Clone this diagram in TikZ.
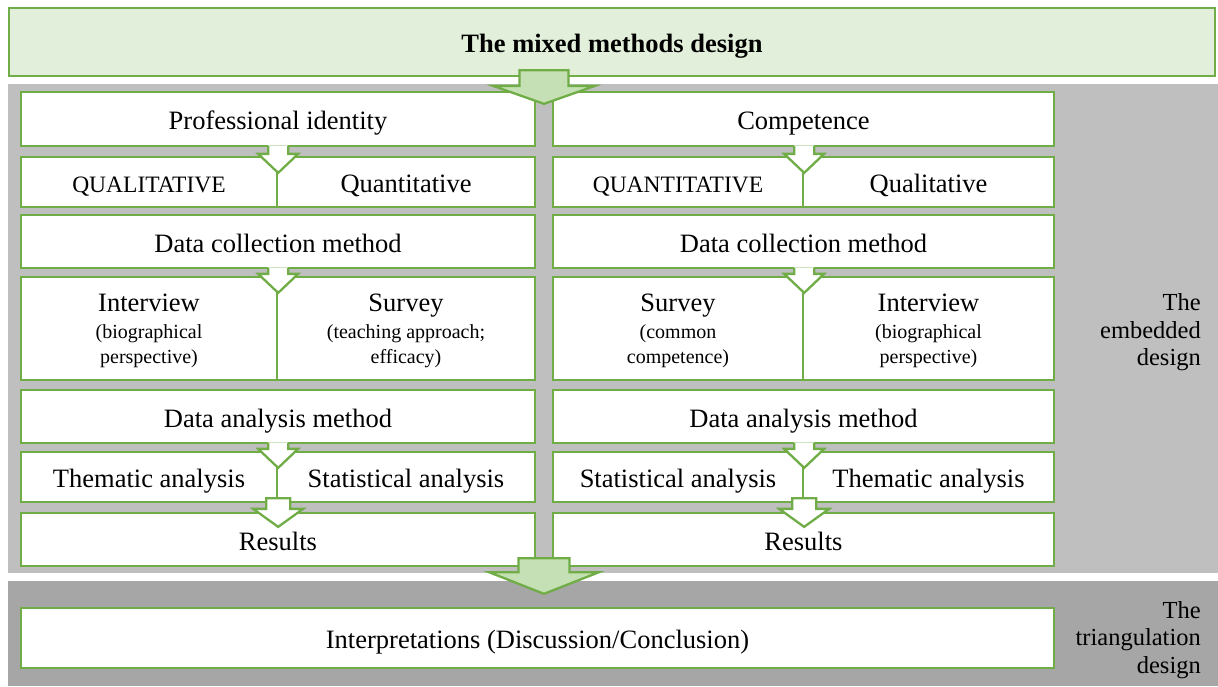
\documentclass[tikz,border=0pt]{standalone}
\usepackage{fontspec}
\setmainfont{Liberation Serif}
\usetikzlibrary{calc}

\definecolor{grn}{RGB}{112,173,71}
\definecolor{paleGrn}{RGB}{226,239,218}
\definecolor{arrowGrn}{RGB}{197,224,180}
\definecolor{bandLight}{RGB}{191,191,191}
\definecolor{bandDark}{RGB}{166,166,166}

\newcommand\FtMain{\fontsize{26.5}{30}\selectfont}
\newcommand\FtCaps{\fontsize{23.5}{27}\selectfont}
\newcommand\FtSmall{\fontsize{20}{25}\selectfont}
\newcommand\FtSide{\fontsize{24.5}{27.5}\selectfont}

% white block arrow from a full-width box into the split point of the row below
\newcommand\funnel[3]{%
  \coordinate (#3s) at (#2.north east);
  \coordinate (#3u) at (#1.south -| #2.north east);
  \fill[white] ($(#3u)+(-10,-1.8)$) -- ($(#3s)+(-10,-2)$) -- ($(#3s)+(-20,-2)$)
     -- ($(#3s)+(0,17)$) -- ($(#3s)+(20,-2)$) -- ($(#3s)+(10,-2)$)
     -- ($(#3u)+(10,-1.8)$) -- cycle;
  \draw[link] ($(#3u)+(-10,-1.1)$) -- ($(#3s)+(-10,-2)$) -- ($(#3s)+(-20,-2)$)
     -- ($(#3s)+(0,17)$) -- ($(#3s)+(20,-2)$) -- ($(#3s)+(10,-2)$)
     -- ($(#3u)+(10,-1.1)$);
}
% white block arrow from a split row down into the results box
\newcommand\dropdown[3]{%
  \coordinate (#3d) at (#1.south east);
  \coordinate (#3e) at (#2.north -| #1.south east);
  \filldraw[link, fill=white] ($(#3d)+(-12,-5)$) -- ($(#3d)+(12,-5)$)
     -- ($(#3e)+(12,-3)$) -- ($(#3e)+(25,-3)$) -- ($(#3e)+(0,15)$)
     -- ($(#3e)+(-25,-3)$) -- ($(#3e)+(-12,-3)$) -- cycle;
}

\begin{document}
\begin{tikzpicture}[x=1pt, y=-1pt,
  band/.style={fill=#1, draw=none, inner sep=0, minimum width=1210},
  box/.style={draw=grn, fill=white, line width=2.3pt, inner sep=0,
              font=\FtMain, align=center, text height=21pt, text depth=0pt},
  twoline/.style={box, font=\FtSmall, text height=, text depth=0pt},
  topbox/.style={box, fill=paleGrn},
  link/.style={draw=grn, line width=2.3pt, line join=miter},
  bigarrow/.style={draw=grn, fill=arrowGrn, line width=2.3pt, line join=miter},
  side/.style={anchor=east, align=right, font=\FtSide, inner sep=0}]

\useasboundingbox (0,0) rectangle (1218,686);

% background bands
\node[band=bandLight, minimum height=489] (embedded) at (613,328.5) {};
\node[band=bandDark, minimum height=105] (triang) at (613,633.5) {};

% title
\node[topbox, minimum width=1206, minimum height=68] (mixed) at (612,42)
  {\bfseries The mixed methods design};

% left strand
\node[box, minimum width=514, minimum height=54] (pi) at (278,119) {Professional identity};
\node[box, minimum width=256, minimum height=50, font=\FtCaps] (pqA) at (149,182) {QUALITATIVE};
\node[box, minimum width=258, minimum height=50] (pqB) at (406,182) {Quantitative};
\node[box, minimum width=514, minimum height=53] (pd) at (278,241.5) {Data collection method};
\node[twoline, minimum width=256, minimum height=103] (piA) at (149,328.5)
  {{\FtMain Interview}\\[2pt](biographical\\perspective)};
\node[twoline, minimum width=258, minimum height=103] (piB) at (406,328.5)
  {{\FtMain Survey}\\[2pt](teaching approach;\\efficacy)};
\node[box, minimum width=514, minimum height=53] (pa) at (278,416.5) {Data analysis method};
\node[box, minimum width=256, minimum height=50] (ptA) at (149,477) {Thematic analysis};
\node[box, minimum width=258, minimum height=50] (ptB) at (406,477) {Statistical analysis};
\node[box, minimum width=514, minimum height=53] (pr) at (278,539.5) {Results};

% right strand
\node[box, minimum width=501, minimum height=54] (co) at (803.5,119) {Competence};
\node[box, minimum width=250, minimum height=50, font=\FtCaps] (cqA) at (678,182) {QUANTITATIVE};
\node[box, minimum width=251, minimum height=50] (cqB) at (928.5,182) {Qualitative};
\node[box, minimum width=501, minimum height=53] (cd) at (803.5,241.5) {Data collection method};
\node[twoline, minimum width=250, minimum height=103] (ciA) at (678,328.5)
  {{\FtMain Survey}\\[2pt](common\\competence)};
\node[twoline, minimum width=251, minimum height=103] (ciB) at (928.5,328.5)
  {{\FtMain Interview}\\[2pt](biographical\\perspective)};
\node[box, minimum width=501, minimum height=53] (ca) at (803.5,416.5) {Data analysis method};
\node[box, minimum width=250, minimum height=50] (ctA) at (678,477) {Statistical analysis};
\node[box, minimum width=251, minimum height=50] (ctB) at (928.5,477) {Thematic analysis};
\node[box, minimum width=501, minimum height=53] (cr) at (803.5,539.5) {Results};

% joint outcome
\node[box, minimum width=1033, minimum height=60] (interp) at (537.5,638)
  {Interpretations (Discussion/Conclusion)};

% connectors inside each strand
\funnel{pi}{pqA}{fa}
\funnel{co}{cqA}{fb}
\funnel{pd}{piA}{fc}
\funnel{cd}{ciA}{fd}
\funnel{pa}{ptA}{fe}
\funnel{ca}{ctA}{ff}
\dropdown{ptA}{pr}{ga}
\dropdown{ctA}{cr}{gb}

% design-level arrows
\coordinate (gapT) at ($(pi.north east)!0.5!(co.north west)$);
\coordinate (gapTs) at (mixed.south -| gapT);
\filldraw[bigarrow] ($(gapTs)+(-24.5,-7)$) -- ($(gapTs)+(24.5,-7)$)
  -- ($(gapT)+(24.5,-5)$) -- ($(gapT)+(51,-5)$) -- ($(gapT)+(0,13)$)
  -- ($(gapT)+(-51,-5)$) -- ($(gapT)+(-24.5,-5)$) -- cycle;

\coordinate (gapB) at ($(pr.south east)!0.5!(cr.south west)$);
\coordinate (gapBt) at (interp.north -| gapB);
\filldraw[bigarrow] ($(gapB)+(-25.5,-9)$) -- ($(gapB)+(25.5,-9)$)
  -- ($(gapB)+(25.5,5)$) -- ($(gapB)+(55,5)$) -- ($(gapBt)+(0,-13)$)
  -- ($(gapB)+(-55,5)$) -- ($(gapB)+(-25.5,5)$) -- cycle;

% band labels
\node[side] (embLabel) at (1201,332.5) {The\\embedded\\design};
\node[side] (triLabel) at (1201,640) {The\\triangulation\\design};
\end{tikzpicture}
\end{document}
